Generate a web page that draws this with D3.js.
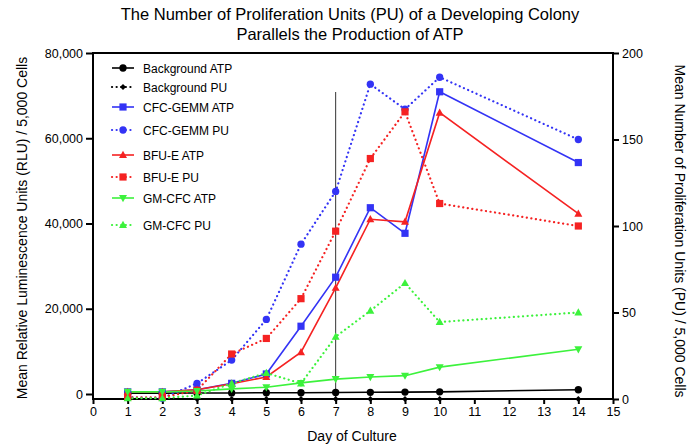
<!DOCTYPE html>
<html>
<head>
<meta charset="utf-8">
<script src="https://cdn.jsdelivr.net/npm/d3@7"></script>
<style>
  body { margin: 0; background: #fff; }
  svg { font-family: "Liberation Sans", Arial, sans-serif; }
</style>
</head>
<body>
<svg id="chart" width="700" height="446"></svg>
<script>
// days on the x axis
const days = [1, 2, 3, 4, 5, 6, 7, 8, 9, 10, 14];

// ATP (left axis, RLU)
const backgroundATP = [200, 200, 250, 250, 300, 300, 350, 400, 450, 500, 1000];
const cfcGemmATP    = [500, 500, 1000, 2500, 4700, 15900, 27400, 43700, 37700, 70900, 54300];
const bfuEATP       = [500, 500, 1000, 2400, 4000, 9800, 24900, 41000, 40400, 66000, 42300];
const gmCfcATP      = [500, 500, 700, 1200, 1600, 2600, 3500, 4000, 4300, 6300, 10500];

// PU (right axis)
const backgroundPU = [0, 0, 0, 0, 0, 0, 0, 0, 0, 0, 0];
const cfcGemmPU    = [1, 0.5, 9, 22.5, 46, 89.5, 120, 182, 167.5, 186, 150];
const bfuEPU       = [1, 1, 5, 26, 35, 58, 97, 139, 166, 113, 100];
const gmCfcPU      = [0.5, 0.5, 2, 9, 15, 9, 36, 51, 67, 44.5, 50];

const leftTicks  = [0, 20000, 40000, 60000, 80000];
const rightTicks = [0, 50, 100, 150, 200];
const xTicks     = d3.range(0, 16);

const series = [
  { name: 'Background ATP', values: backgroundATP, axis: 'left',  color: '#000000', dotted: false, marker: 'circle' },
  { name: 'Background PU',  values: backgroundPU,  axis: 'right', color: '#000000', dotted: true,  marker: 'diamond' },
  { name: 'CFC-GEMM ATP',   values: cfcGemmATP,    axis: 'left',  color: '#3333f5', dotted: false, marker: 'square' },
  { name: 'CFC-GEMM PU',    values: cfcGemmPU,     axis: 'right', color: '#3333f5', dotted: true,  marker: 'circle' },
  { name: 'BFU-E ATP',      values: bfuEATP,       axis: 'left',  color: '#f52222', dotted: false, marker: 'triangle' },
  { name: 'BFU-E PU',       values: bfuEPU,        axis: 'right', color: '#f52222', dotted: true,  marker: 'square' },
  { name: 'GM-CFC ATP',     values: gmCfcATP,      axis: 'left',  color: '#3cf23c', dotted: false, marker: 'triangleDown' },
  { name: 'GM-CFC PU',      values: gmCfcPU,       axis: 'right', color: '#3cf23c', dotted: true,  marker: 'triangle' }
];

// Layout
const plot = { left: 93, right: 613, top: 53, bottom: 399 };
const legendRows = [68, 87, 107, 130, 155, 177, 198, 225];

const svg = d3.select('#chart');

const x = d3.scaleLinear().domain([0, 15]).range([plot.left, plot.right]);
const yLeft = d3.scaleLinear().domain([0, 80000]).range([394, plot.top]);
const yRight = d3.scaleLinear().domain([0, 200]).range([plot.bottom, plot.top]);

// Title
svg.append('text').attr('x', 350).attr('y', 20).attr('text-anchor', 'middle')
  .style('font-size', '16.5px').text('The Number of Proliferation Units (PU) of a Developing Colony');
svg.append('text').attr('x', 350).attr('y', 40).attr('text-anchor', 'middle')
  .style('font-size', '16.5px').text('Parallels the Production of ATP');

// Axis titles
svg.append('text').attr('transform', 'translate(27,228) rotate(-90)').attr('text-anchor', 'middle')
  .style('font-size', '14px').text('Mean Relative Luminescence Units (RLU) / 5,000 Cells');
svg.append('text').attr('transform', 'translate(675,231) rotate(90)').attr('text-anchor', 'middle')
  .style('font-size', '14px').text('Mean Number of Proliferation Units (PU) / 5,000 Cells');
svg.append('text').attr('x', 352).attr('y', 441).attr('text-anchor', 'middle')
  .style('font-size', '14px').text('Day of Culture');

// Frame
svg.append('rect')
  .attr('x', plot.left).attr('y', plot.top)
  .attr('width', plot.right - plot.left).attr('height', plot.bottom - plot.top)
  .attr('fill', 'none').attr('stroke', '#000').attr('stroke-width', 2);

// Axes
const fmt = d3.format(',');
const axL = svg.append('g').attr('transform', `translate(${plot.left},0)`)
  .call(d3.axisLeft(yLeft).tickValues(leftTicks).tickFormat(fmt).tickSize(7).tickPadding(3));
const axR = svg.append('g').attr('transform', `translate(${plot.right},0)`)
  .call(d3.axisRight(yRight).tickValues(rightTicks).tickSize(6).tickPadding(3));
const axB = svg.append('g').attr('transform', `translate(0,${plot.bottom})`)
  .call(d3.axisBottom(x).tickValues(xTicks).tickSize(5).tickPadding(3));

[axL, axR, axB].forEach(g => {
  g.select('.domain').remove();
  g.selectAll('.tick line').attr('stroke', '#000').attr('stroke-width', 2);
  g.selectAll('.tick text').attr('fill', '#000')
    .style('font-family', '"Liberation Sans", Arial, sans-serif').style('font-size', '12.5px');
});

// Vertical marker at day 7
svg.append('line')
  .attr('x1', x(7)).attr('x2', x(7)).attr('y1', 92).attr('y2', plot.bottom)
  .attr('stroke', '#333').attr('stroke-width', 1);

// Marker shapes
function markerPath(type) {
  switch (type) {
    case 'circle': return d3.symbol(d3.symbolCircle, 42)();
    case 'square': return 'M-3.6,-3.6H3.6V3.6H-3.6Z';
    case 'diamond': return 'M0,-3L3,0L0,3L-3,0Z';
    case 'triangle': return 'M0,-4.2L4,3L-4,3Z';
    case 'triangleDown': return 'M0,4.2L4,-3L-4,-3Z';
  }
}

function styleLine(sel, s) {
  sel.attr('stroke', s.color)
    .attr('stroke-width', s.dotted ? 2.2 : 1.6)
    .attr('stroke-dasharray', s.dotted ? '0.1,4.5' : null)
    .attr('stroke-linecap', s.dotted ? 'round' : 'butt');
}

// Lines and points
const linesG = svg.append('g');
series.forEach(s => {
  const yScale = s.axis === 'left' ? yLeft : yRight;
  const pts = days.map((d, i) => [x(d), yScale(s.values[i])]);
  linesG.append('path')
    .attr('d', d3.line()(pts))
    .attr('fill', 'none')
    .call(styleLine, s);
});
series.forEach(s => {
  const yScale = s.axis === 'left' ? yLeft : yRight;
  linesG.selectAll(null)
    .data(days.map((d, i) => [x(d), yScale(s.values[i])]))
    .enter().append('path')
    .attr('transform', p => `translate(${p[0]},${p[1]})`)
    .attr('d', markerPath(s.marker))
    .attr('fill', s.color);
});

// Legend
const legend = svg.append('g');
series.forEach((s, i) => {
  const ly = legendRows[i];
  legend.append('line')
    .attr('x1', 112).attr('x2', 134).attr('y1', ly).attr('y2', ly)
    .call(styleLine, s);
  legend.append('path')
    .attr('transform', `translate(123,${ly})`)
    .attr('d', markerPath(s.marker))
    .attr('fill', s.color);
  legend.append('text')
    .attr('x', 143).attr('y', ly + 4.5)
    .style('font-size', '12px')
    .text(s.name);
});
</script>
</body>
</html>
